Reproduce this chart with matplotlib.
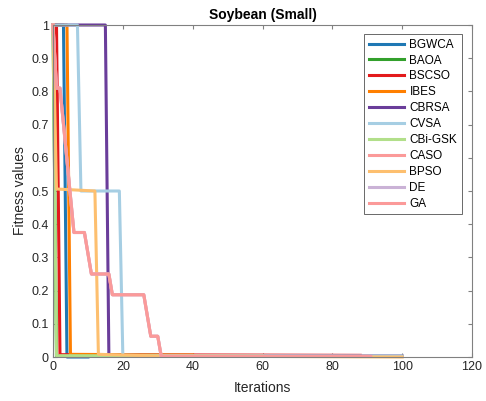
import matplotlib
matplotlib.use("Agg")
import matplotlib.pyplot as plt

plt.rcParams['font.family'] = ['Liberation Sans', 'DejaVu Sans']

# convergence curves as (iteration, fitness) breakpoints
BGWCA_x = [0, 3, 4, 10]
BGWCA_y = [1, 1, 0.0, 0.0]
BAOA_x = [0, 1, 30]
BAOA_y = [1, 0.004, 0.004]
BSCSO_x = [0, 1, 2, 88]
BSCSO_y = [1, 1, 0.007, 0.005]
IBES_x = [0, 4, 5, 40]
IBES_y = [1, 1, 0.008, 0.006]
CBRSA_x = [0, 15, 16, 100]
CBRSA_y = [1, 1, 0.005, 0.003]
CVSA_x = [0, 7, 8, 19, 20, 100]
CVSA_y = [1, 1, 0.5, 0.5, 0.005, 0.003]
CBIGSK_x = [0, 1, 60]
CBIGSK_y = [1, 0.004, 0.003]
CASO_x = [0, 1, 2, 6, 9, 11, 16, 17, 26, 28, 30, 31, 90]
CASO_y = [1, 0.81, 0.81, 0.375, 0.375, 0.25, 0.25, 0.1875, 0.1875, 0.0625, 0.0625, 0.002, 0.002]
BPSO_x = [0, 1, 12, 13, 30, 100]
BPSO_y = [1, 0.506, 0.5, 0.008, 0.003, 0.0]
DE_x = [0, 1, 2, 6, 9, 11, 16, 17, 26, 28, 30, 31, 60]
DE_y = [1, 0.81, 0.81, 0.375, 0.375, 0.25, 0.25, 0.1875, 0.1875, 0.0625, 0.0625, 0.002, 0.002]
GA_x = [0, 1, 2, 6, 9, 11, 16, 17, 26, 28, 30, 31, 91]
GA_y = [1, 0.81, 0.81, 0.375, 0.375, 0.25, 0.25, 0.1875, 0.1875, 0.0625, 0.0625, 0.002, 0.002]

series = [
    ("BGWCA", BGWCA_x, BGWCA_y, '#1f78b4'),
    ("BAOA", BAOA_x, BAOA_y, '#33a02c'),
    ("BSCSO", BSCSO_x, BSCSO_y, '#e31a1c'),
    ("IBES", IBES_x, IBES_y, '#ff7f00'),
    ("CBRSA", CBRSA_x, CBRSA_y, '#6a3d9a'),
    ("CVSA", CVSA_x, CVSA_y, '#a6cee3'),
    ("CBi-GSK", CBIGSK_x, CBIGSK_y, '#b2df8a'),
    ("CASO", CASO_x, CASO_y, '#fb9a99'),
    ("BPSO", BPSO_x, BPSO_y, '#fdbf6f'),
    ("DE", DE_x, DE_y, '#cab2d6'),
    ("GA", GA_x, GA_y, '#fb9a99'),
]

fig = plt.figure(figsize=(4.86, 4.01), dpi=100)
ax = fig.add_axes([53 / 486, 44 / 401, 419 / 486, 332 / 401])

for name, xs, ys, col in series:
    ax.plot(xs, ys, color=col, lw=2.2, label=name, clip_on=False)

ax.set_xlim(0, 120)
ax.set_ylim(0, 1)
ax.set_xticks(range(0, 121, 20))
ax.set_yticks([i / 10 for i in range(11)])
ax.set_yticklabels(['0', '0.1', '0.2', '0.3', '0.4', '0.5', '0.6', '0.7', '0.8', '0.9', '1'])

edge = '#808080'
for s in ax.spines.values():
    s.set_color(edge)
    s.set_linewidth(0.8)
ax.tick_params(direction='in', length=3, width=0.8, color=edge,
               top=True, right=True, labelsize=9, labelcolor='#262626', pad=3)

ax.set_xlabel("Iterations", fontsize=10, color='#262626', labelpad=6)
ax.set_ylabel("Fitness values", fontsize=10, color='#262626', labelpad=3)
ax.set_title("Soybean (Small)", fontsize=10, fontweight='bold', pad=4)

leg = ax.legend(loc='upper right', fontsize=8.5, frameon=True, fancybox=False,
                handlelength=3.0, handletextpad=0.45, labelspacing=0.33,
                borderpad=0.4, borderaxespad=0, bbox_to_anchor=(0.976, 0.973))
leg.get_frame().set_edgecolor('#262626')
leg.get_frame().set_linewidth(0.6)

fig.savefig("out.png", dpi=100)
